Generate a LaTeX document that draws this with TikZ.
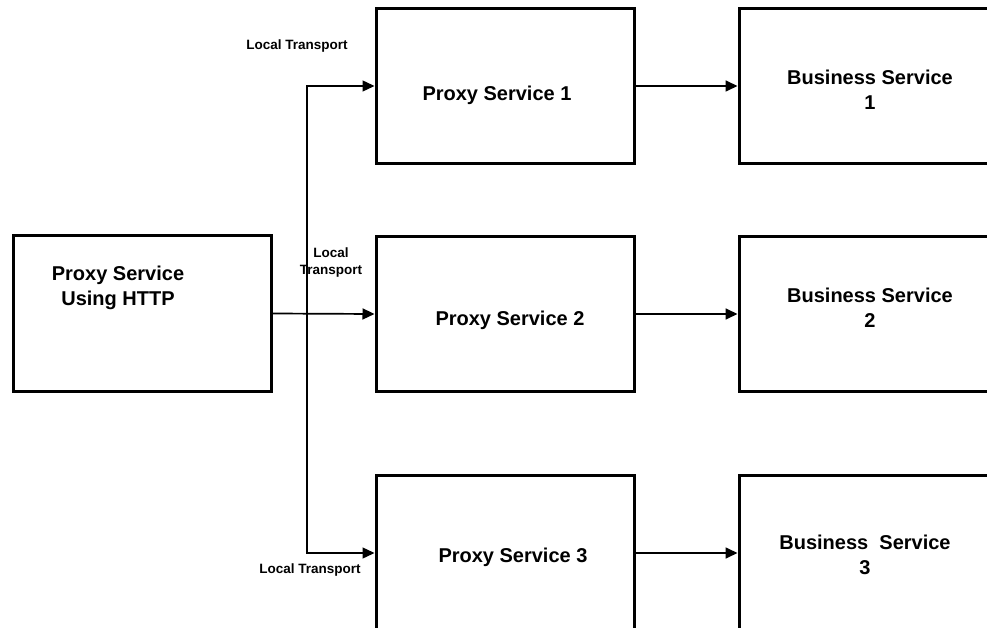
\documentclass[tikz,border=0pt]{standalone}
\usepackage{fontspec}
\setmainfont{Liberation Sans}
\usetikzlibrary{arrows.meta,positioning,calc}
\tikzset{
  box/.style={rectangle,draw,line width=3pt,minimum width=258pt,
              minimum height=155pt,inner sep=0pt},
  boxtext/.style={font=\fontsize{20}{25}\selectfont\bfseries,
                  align=center,inner sep=0pt},
  smalltext/.style={font=\fontsize{13.5}{17}\selectfont\bfseries,
                    align=center,inner sep=0pt},
  conn/.style={-{Triangle[length=12pt,width=11pt]},line width=1.7pt},
}

\begin{document}
\begin{tikzpicture}[x=1pt,y=1pt]
  \useasboundingbox (0,0) rectangle (987,-628);
  \clip (0,0) rectangle (987,-628);
  % entry proxy
  \node[box] (http) at (142,-313.5) {};
  \node[boxtext] (httptxt) at (118,-288) {Proxy Service\\Using HTTP};
  % proxy and business rows
  \foreach \i/\y/\px/\py/\bx/\by/\bl in {1/86/497/95/870/89.5/{Business Service},
                                         2/314/510/320/870/308/{Business Service},
                                         3/553/513/557/865/554.5/{Business\ \ Service}}{
    \node[box] (p\i) at (505,-\y) {};
    \node[boxtext] (pt\i) at (\px,-\py) {Proxy Service \i};
    \node[box] (b\i) at (868,-\y) {};
    \node[boxtext] (bt\i) at (\bx,-\by) {\bl\\\i};
    \draw[conn] (p\i.east) -- (b\i.west);
  }
  % local transport fan out
  \coordinate (split) at (307,-314);
  \draw[conn] (http.east) -- (p2.west);
  \draw[conn,line width=1.4pt] (split) |- (p1.west);
  \draw[conn,line width=1.4pt] (split) |- (p3.west);
  \node[smalltext] (lt1) at (297,-46) {Local Transport};
  \node[smalltext] (lt2) at (331,-263) {Local\\Transport};
  \node[smalltext] (lt3) at (310,-570) {Local Transport};
\end{tikzpicture}
\end{document}
